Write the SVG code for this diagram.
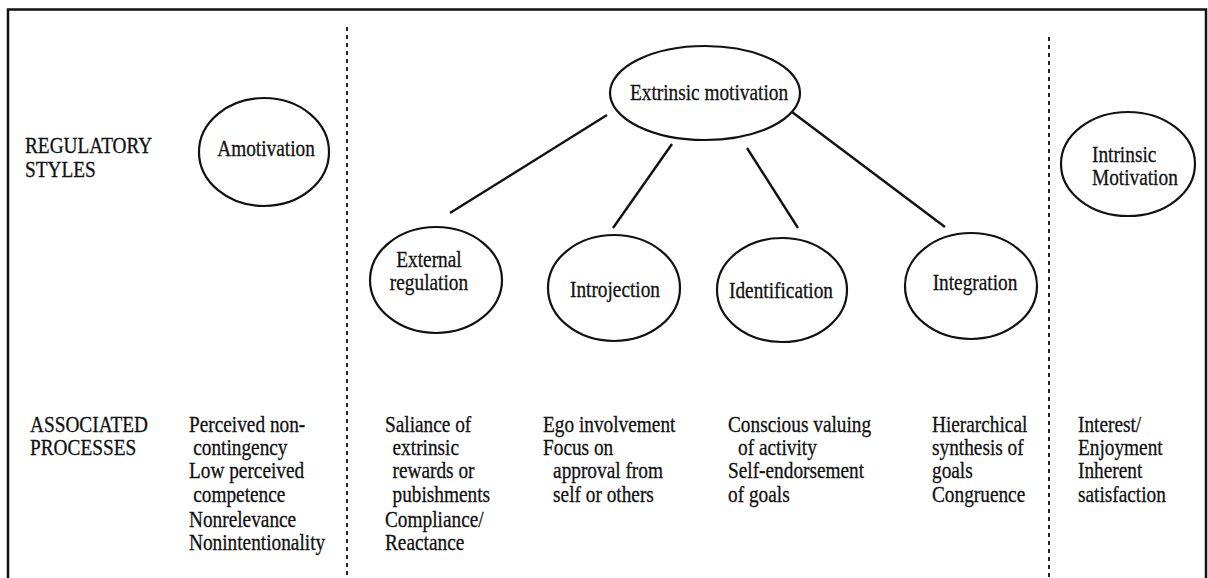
<svg xmlns="http://www.w3.org/2000/svg" width="1208" height="578" viewBox="0 0 1208 578">
<style>
.t{font-family:"Liberation Serif","Times New Roman",serif;font-size:23px;fill:#111;stroke:#111;stroke-width:0.3}
.n{fill:#fff;stroke:#111;stroke-width:2.2}
.c{stroke:#111;stroke-width:2.4;fill:none}
.d{stroke:#222;stroke-width:2;stroke-dasharray:4 4;fill:none}
.f{stroke:#111;stroke-width:2.5;fill:none}
</style>
<rect width="1208" height="578" fill="#fff"/>
<g id="frame">
<path class="f" d="M8,578 V9.5 H1206 V578"/>
<line class="d" x1="347" y1="27" x2="347" y2="578"/>
<line class="d" x1="1049" y1="37" x2="1049" y2="578"/>
</g>
<g id="connectors">
<line class="c" x1="607" y1="115" x2="450" y2="213"/>
<line class="c" x1="672" y1="144" x2="613" y2="228"/>
<line class="c" x1="747" y1="148" x2="798" y2="228"/>
<line class="c" x1="792" y1="112" x2="945" y2="227"/>
</g>
<g id="row-labels">
<text class="t" transform="translate(25,0) scale(0.84 1)"><tspan x="0" y="153">REGULATORY</tspan><tspan x="0" y="177">STYLES</tspan></text>
<text class="t" transform="translate(30,0) scale(0.84 1)"><tspan x="0" y="432">ASSOCIATED</tspan><tspan x="0" y="455">PROCESSES</tspan></text>
</g>
<g id="amotivation">
<ellipse class="n" cx="264" cy="152" rx="65" ry="54"/>
<text class="t" text-anchor="middle" transform="translate(266,156) scale(0.84 1)">Amotivation</text>
</g>
<g id="extrinsic">
<ellipse class="n" cx="705" cy="93" rx="95" ry="47"/>
<text class="t" text-anchor="middle" transform="translate(709,100) scale(0.84 1)">Extrinsic motivation</text>
</g>
<g id="intrinsic">
<ellipse class="n" cx="1128" cy="164" rx="67" ry="52"/>
<text class="t" transform="translate(1092,0) scale(0.84 1)"><tspan x="0" y="162">Intrinsic</tspan><tspan x="0" y="185">Motivation</tspan></text>
</g>
<g id="external">
<ellipse class="n" cx="436" cy="280" rx="66" ry="53"/>
<text class="t" text-anchor="middle" transform="translate(429,0) scale(0.84 1)"><tspan x="0" y="267">External</tspan><tspan x="0" y="290">regulation</tspan></text>
</g>
<g id="introjection">
<ellipse class="n" cx="614" cy="288" rx="66" ry="53"/>
<text class="t" text-anchor="middle" transform="translate(615,297) scale(0.84 1)">Introjection</text>
</g>
<g id="identification">
<ellipse class="n" cx="782" cy="290" rx="65" ry="52"/>
<text class="t" text-anchor="middle" transform="translate(781,298) scale(0.84 1)">Identification</text>
</g>
<g id="integration">
<ellipse class="n" cx="971" cy="286" rx="66" ry="53"/>
<text class="t" text-anchor="middle" transform="translate(975,290) scale(0.84 1)">Integration</text>
</g>
<g id="processes">
<text class="t" transform="translate(189,0) scale(0.84 1)"><tspan x="0" y="432">Perceived non-</tspan><tspan x="5" y="455">contingency</tspan><tspan x="0" y="478">Low perceived</tspan><tspan x="5" y="502">competence</tspan><tspan x="0" y="527">Nonrelevance</tspan><tspan x="0" y="550">Nonintentionality</tspan></text>
<text class="t" transform="translate(385,0) scale(0.84 1)"><tspan x="0" y="432">Saliance of</tspan><tspan x="9" y="455">extrinsic</tspan><tspan x="9" y="478">rewards or</tspan><tspan x="9" y="502">pubishments</tspan><tspan x="0" y="527">Compliance/</tspan><tspan x="0" y="550">Reactance</tspan></text>
<text class="t" transform="translate(543,0) scale(0.84 1)"><tspan x="0" y="432">Ego involvement</tspan><tspan x="0" y="455">Focus on</tspan><tspan x="12" y="478">approval from</tspan><tspan x="12" y="502">self or others</tspan></text>
<text class="t" transform="translate(728,0) scale(0.84 1)"><tspan x="0" y="432">Conscious valuing</tspan><tspan x="12" y="455">of activity</tspan><tspan x="0" y="478">Self-endorsement</tspan><tspan x="0" y="502">of goals</tspan></text>
<text class="t" transform="translate(932,0) scale(0.84 1)"><tspan x="0" y="432">Hierarchical</tspan><tspan x="0" y="455">synthesis of</tspan><tspan x="0" y="478">goals</tspan><tspan x="0" y="502">Congruence</tspan></text>
<text class="t" transform="translate(1078,0) scale(0.84 1)"><tspan x="0" y="432">Interest/</tspan><tspan x="0" y="455">Enjoyment</tspan><tspan x="0" y="478">Inherent</tspan><tspan x="0" y="502">satisfaction</tspan></text>
</g>
</svg>
